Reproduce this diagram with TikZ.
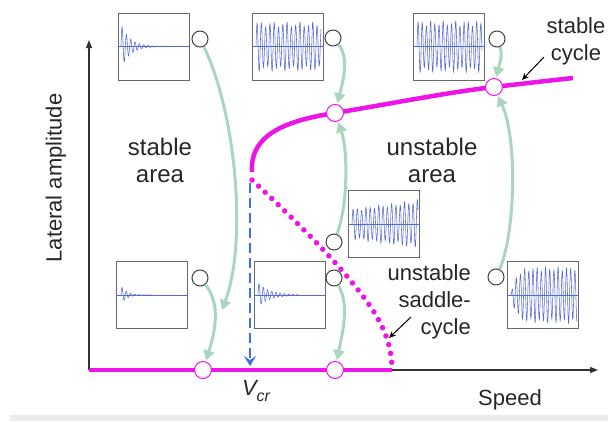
\documentclass[tikz,border=0pt]{standalone}
\usepackage{fontspec}
\setmainfont{Liberation Sans}
\usetikzlibrary{arrows.meta}
\definecolor{mag}{RGB}{236,20,230}
\definecolor{mint}{RGB}{170,214,192}
\definecolor{wblue}{RGB}{85,105,215}
\definecolor{dblue}{RGB}{60,115,220}
\definecolor{boxgray}{RGB}{105,105,105}
\begin{document}
\begin{tikzpicture}[x=1pt,y=-1pt,
  smallc/.style={circle,draw=black!75,fill=white,line width=1pt,minimum size=16pt,inner sep=0pt},
  magc/.style={circle,draw=mag,fill=white,line width=1pt,minimum size=17pt,inner sep=0pt},
  osc/.style={draw=boxgray,line width=1pt,fill=white,minimum width=71pt,minimum height=67pt,inner sep=0pt},
  wave/.style={draw=wblue,line width=0.55pt},
  cline/.style={draw=wblue,line width=0.8pt},
  garrow/.style={draw=mint,line width=3pt,-{Triangle[length=10pt,width=11pt]}},
  axis/.style={draw=black!80,line width=1.2pt,-{Triangle[length=8pt,width=6pt]}},
  curve/.style={draw=mag,line width=4.5pt},
  lblarrow/.style={draw=black,line width=1pt,-{Stealth[length=7pt,width=6pt]}},
  lbl/.style={font=\fontsize{22}{27}\selectfont,text=black!85,align=center,inner sep=0pt},
  biglbl/.style={font=\fontsize{24}{27}\selectfont,text=black!85,align=center,inner sep=0pt}
]
\useasboundingbox (0,0) rectangle (608,421);
\fill[gray!15] (10,415) rectangle (608,421);

% axes
\coordinate (O) at (89,370);
\coordinate (ytip) at (89,40);
\coordinate (xtip) at (598,370);
\draw[axis] (O) -- (ytip);
\draw[axis] (O) -- (xtip);

% magenta branches
\coordinate (turn) at (252,172);
\coordinate (zend) at (392,370);
\coordinate (cend) at (573,78);
\draw[curve] (O) -- (zend);
\draw[mag,line width=5.5pt,line cap=round,dash pattern=on 0pt off 9pt]
  (252,180) .. controls (290,215) and (330,255) .. (350,280)
  .. controls (375,310) and (392,335) .. (zend);
\draw[curve] (turn) .. controls (250,140) and (275,122) .. (335,113)
  .. controls (400,102) and (450,92) .. (494,87) .. controls (520,84) and (545,81) .. (cend);

% dashed critical speed arrow
\coordinate (vtop) at (250,183);
\coordinate (vbot) at (250,366);
\draw[dblue,line width=2.8pt,dash pattern=on 10pt off 5pt,-{Stealth[length=10pt,width=12pt,inset=4pt]}] (vtop) -- (vbot);

% oscillogram boxes
\node[osc] (b1) at (153.5,46.5) {};
\node[osc] (b2) at (288,46.5) {};
\node[osc] (b3) at (449,46.5) {};
\node[osc] (b4) at (384,224) {};
\node[osc] (b5) at (152,295) {};
\node[osc] (b6) at (290,295) {};
\node[osc] (b7) at (543,295) {};

\foreach \b in {b1,b2,b3,b4,b5,b6,b7}{\draw[cline] (\b.west) -- (\b.east);}

\draw[wave] plot[domain=0:65,samples=400] ({121+\x},{46.5-22*exp(-\x/9)*sin(\x*83)});
\draw[wave] plot[domain=0:65,samples=400] ({256+\x},{46.5-22*(1+0.12*sin(\x*27))*sin(\x*84)});
\draw[wave] plot[domain=0:65,samples=400] ({417+\x},{46.5-23*(1+0.12*sin(\x*31))*sin(\x*86)});
\draw[wave] plot[domain=0:66,samples=400] ({352+\x},{224-(14+8*\x/66)*(1+0.1*sin(\x*29))*sin(\x*84)});
\draw[wave] plot[domain=0:31,samples=200] ({121+\x},{295-9*exp(-\x/6)*sin(\x*85)});
\draw[wave] plot[domain=0:42,samples=300] ({258+\x},{295-12*exp(-\x/12)*sin(\x*85)});
\draw[wave] plot[domain=0:66,samples=400] ({511+\x},{295-26*(1-exp(-\x/5))*(1+0.08*sin(\x*33))*sin(\x*86)});

% state circles
\node[smallc] (sc1) at (200,39) {};
\node[smallc] (sc2) at (333,38) {};
\node[smallc] (sc3) at (497,39) {};
\node[smallc] (sc4) at (334,242) {};
\node[smallc] (sc5) at (200,278) {};
\node[smallc] (sc6) at (334,278) {};
\node[smallc] (sc7) at (496,277) {};
\coordinate (e1) at (222,310);

% magenta points (positions)
\coordinate (p1) at (335,113);
\coordinate (p2) at (494,87);
\coordinate (p3) at (203,370);
\coordinate (p4) at (335,370);

% green transition arrows
\draw[garrow] (sc1) .. controls (235,110) and (248,240) .. (e1);
\draw[garrow,shorten >=10pt] (sc5) .. controls (222,305) and (214,335) .. (p3);
\draw[garrow,shorten >=10pt] (sc2) .. controls (350,58) and (342,85) .. (p1);
\draw[garrow,shorten >=10pt] (sc4) .. controls (348,205) and (348,150) .. (p1);
\draw[garrow,shorten >=10pt] (sc6) .. controls (350,305) and (342,335) .. (p4);
\draw[garrow,shorten >=10pt] (sc3) .. controls (503,55) and (500,62) .. (p2);
\draw[garrow,shorten >=10pt] (sc7) .. controls (515,235) and (518,140) .. (p2);

\node[magc] (mc1) at (p1) {};
\node[magc] (mc2) at (p2) {};
\node[magc] (mc3) at (p3) {};
\node[magc] (mc4) at (p4) {};

% labels
\node[biglbl] (stab) at (160,160) {stable\\area};
\node[biglbl] (unst) at (432,160) {unstable\\area};
\node[lbl,rotate=90] (ylab) at (56,178) {Lateral amplitude};
\node[lbl] (xlab) at (510,400) {Speed};
\node[lbl] (sclab) at (576,41) {stable\\cycle};
\node[lbl,align=right,anchor=east] (sdlab) at (471,302) {unstable\\saddle-\\cycle};
\node[lbl] (vcr) at (256,391) {\itshape V\raisebox{-0.45ex}{\fontsize{16}{16}\selectfont cr}};

\coordinate (a1s) at (544,57);
\coordinate (a1e) at (522,80);
\coordinate (a2s) at (411,317);
\coordinate (a2e) at (389,338);
\draw[lblarrow] (a1s) -- (a1e);
\draw[lblarrow] (a2s) -- (a2e);
\end{tikzpicture}
\end{document}
